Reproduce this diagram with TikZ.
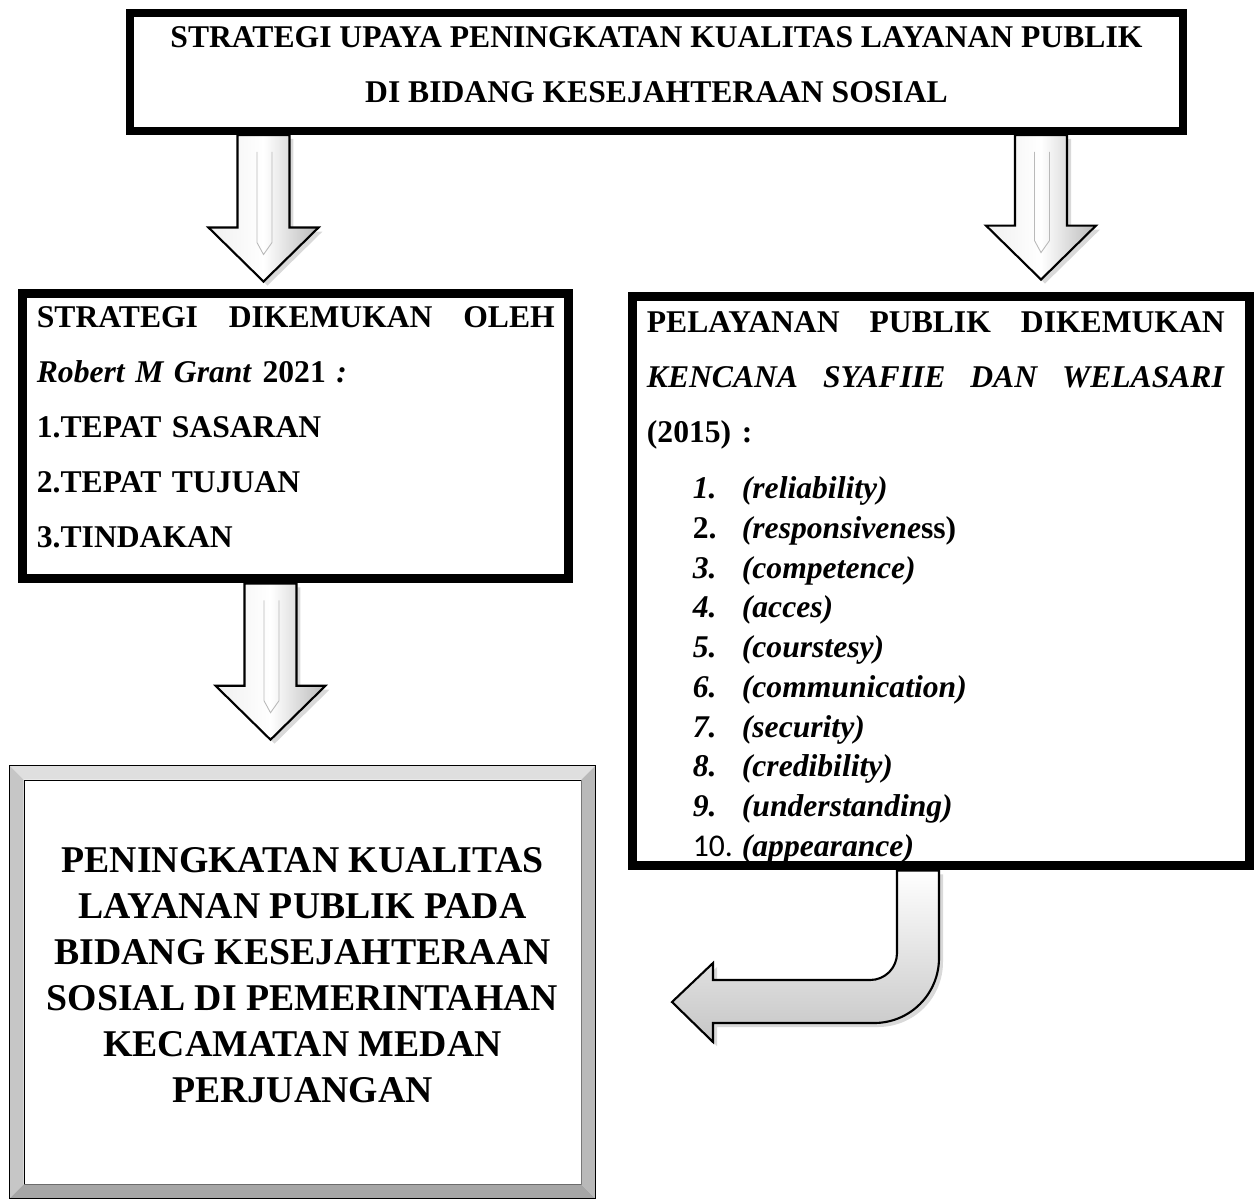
\documentclass[tikz,border=0pt]{standalone}
\usepackage{fontspec}
\setmainfont{Liberation Serif}
\newfontfamily\calibri{Carlito}
\usetikzlibrary{calc, positioning, shadows}

% panah tebal dari #1 ke bawah sampai ujung #2
\newcommand{\panah}[2]{%
	\path[panahgaya] let \p1=(#1), \p2=(#2) in
		(\x1-0.52cm,\y1) -- (\x1-0.52cm,\y2+1.08cm) -- (\x1-1.1cm,\y2+1.08cm) -- (\x1,\y2)
		-- (\x1+1.1cm,\y2+1.08cm) -- (\x1+0.52cm,\y2+1.08cm) -- (\x1+0.52cm,\y1) -- cycle;
	\draw[gray!55, line width=0.5pt] let \p1=(#1), \p2=(#2) in
		(\x1-0.13cm,\y1-0.34cm) -- (\x1-0.13cm,\y2+0.78cm) -- (\x1,\y2+0.54cm)
		-- (\x1+0.17cm,\y2+0.78cm) -- (\x1+0.17cm,\y1-0.34cm);
}

\begin{document}
\begin{tikzpicture}[x=0.02cm, y=-0.02cm]
	\tikzstyle{kotak} = [draw, line width=0.18cm, fill=white, inner sep=0pt]
	\tikzstyle{teks} = [inner sep=0pt, align=left, font=\bfseries\fontsize{18}{31.3}\selectfont]
	\tikzstyle{panahgaya} = [draw=black, line width=1.2pt, drop shadow={opacity=0.3, shadow xshift=0.08cm, shadow yshift=-0.08cm}, left color=gray!12, right color=gray!55, middle color=white]

	\useasboundingbox (0,0) rectangle (1254,1198);

	% kotak
	\node[kotak, line width=0.16cm, minimum width=21.06cm, minimum height=2.36cm, text depth=0.3cm, align=center, font=\bfseries\fontsize{18}{31.3}\selectfont] (judul) at (656.5,72)
		{STRATEGI UPAYA PENINGKATAN KUALITAS LAYANAN PUBLIK\\DI BIDANG KESEJAHTERAAN SOSIAL};
	\node[kotak, minimum width=10.94cm, minimum height=5.72cm] (strategi) at (295.5,436) {};
	\node[kotak, minimum width=12.36cm, minimum height=11.4cm] (pelayanan) at (941,581) {};
	\node[draw, thin, fill=white, minimum width=11.14cm, minimum height=8.08cm, text depth=0.28cm, align=center, font=\bfseries\fontsize{21.5}{26.2}\selectfont] (hasil) at (302.5,982)
		{PENINGKATAN KUALITAS\\LAYANAN PUBLIK PADA\\BIDANG KESEJAHTERAAN\\SOSIAL DI PEMERINTAHAN\\KECAMATAN MEDAN\\PERJUANGAN};

	% bingkai timbul kotak hasil
	\fill[gray!25] ($(hasil.north west)+(-14,-14)$) -- ($(hasil.north east)+(14,-14)$) -- (hasil.north east) -- (hasil.north west) -- cycle;
	\fill[gray!45] ($(hasil.north west)+(-14,-14)$) -- (hasil.north west) -- (hasil.south west) -- ($(hasil.south west)+(-14,14)$) -- cycle;
	\fill[gray!55] ($(hasil.north east)+(14,-14)$) -- (hasil.north east) -- (hasil.south east) -- ($(hasil.south east)+(14,14)$) -- cycle;
	\fill[gray!70] ($(hasil.south west)+(-14,14)$) -- (hasil.south west) -- (hasil.south east) -- ($(hasil.south east)+(14,14)$) -- cycle;
	\draw[thin] ($(hasil.north west)+(-14,-14)$) rectangle ($(hasil.south east)+(14,14)$);

	% isi kotak
	\node[teks, text width=10.36cm, below right=0.36cm and 0.38cm of strategi.north west] (strategiteks)
		{STRATEGI\hfill DIKEMUKAN\hfill OLEH\\
		\textit{Robert M Grant} 2021 \textit{:}\\
		1.TEPAT SASARAN\\
		2.TEPAT TUJUAN\\
		3.TINDAKAN};
	\node[teks, text width=11.56cm, below right=0.4cm and 0.38cm of pelayanan.north west] (pelayananteks)
		{PELAYANAN\hfill PUBLIK\hfill DIKEMUKAN\\
		\textit{KENCANA\hfill SYAFIIE\hfill DAN\hfill WELASARI}\\
		(2015) :};
	\node[teks, font=\bfseries\fontsize{18}{22.6}\selectfont, below right=3.7cm and 1.3cm of pelayanan.north west] (daftar)
		{\makebox[0.98cm][l]{\textit{1.}}\textit{(reliability)}\\
		\makebox[0.98cm][l]{2.}\textit{(responsivene}ss)\\
		\makebox[0.98cm][l]{\textit{3.}}\textit{(competence)}\\
		\makebox[0.98cm][l]{\textit{4.}}\textit{(acces)}\\
		\makebox[0.98cm][l]{\textit{5.}}\textit{(courstesy)}\\
		\makebox[0.98cm][l]{\textit{6.}}\textit{(communication)}\\
		\makebox[0.98cm][l]{\textit{7.}}\textit{(security)}\\
		\makebox[0.98cm][l]{\textit{8.}}\textit{(credibility)}\\
		\makebox[0.98cm][l]{\textit{9.}}\textit{(understanding)}\\
		\makebox[0.98cm][l]{\calibri\mdseries 10.}\textit{(appearance)}};

	% panah
	\coordinate (xa) at (263.5,0);
	\coordinate (xb) at (1041,0);
	\coordinate (xc) at (270.5,0);
	\coordinate (xd) at (918,0);
	\coordinate (ujung) at (672,1002);

	\panah{judul.south -| xa}{$(strategi.north -| xa)+(0,-7)$}
	\panah{judul.south -| xb}{$(pelayanan.north -| xb)+(0,-12)$}
	\panah{strategi.south -| xc}{$(hasil.north -| xc)+(0,-40)$}

	\path[panahgaya, top color=white, bottom color=gray!45] let \p1=(pelayanan.south -| xd), \p2=(ujung) in
		(\x1-0.42cm,\y1) -- (\x1-0.42cm,\y2+0.98cm)
		.. controls (\x1-0.42cm,\y2+0.68cm) and (\x1-0.66cm,\y2+0.44cm) .. (\x1-0.96cm,\y2+0.44cm)
		-- (\x2+0.82cm,\y2+0.44cm) -- (\x2+0.82cm,\y2+0.78cm) -- (\x2,\y2)
		-- (\x2+0.82cm,\y2-0.8cm) -- (\x2+0.82cm,\y2-0.42cm) -- (\x1-0.88cm,\y2-0.42cm)
		.. controls (\x1-0.16cm,\y2-0.42cm) and (\x1+0.42cm,\y2+0.16cm) .. (\x1+0.42cm,\y2+0.88cm)
		-- (\x1+0.42cm,\y1) -- cycle;
\end{tikzpicture}
\end{document}
